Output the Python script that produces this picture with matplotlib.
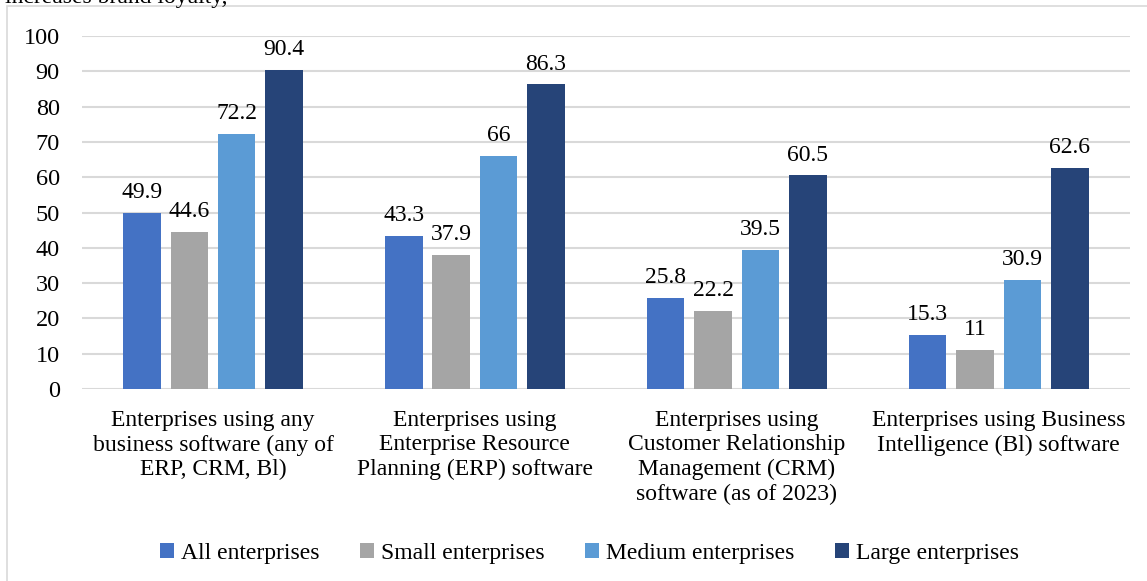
import numpy as np
import matplotlib.pyplot as plt
from matplotlib.patches import Rectangle

plt.rcParams["font.family"] = ["Liberation Serif", "DejaVu Serif"]

categories = [
    "Enterprises using any\nbusiness software (any of\nERP, CRM, Bl)",
    "Enterprises using\nEnterprise Resource\nPlanning (ERP) software",
    "Enterprises using\nCustomer Relationship\nManagement (CRM)\nsoftware (as of 2023)",
    "Enterprises using Business\nIntelligence (Bl) software",
]
series_names = ["All enterprises", "Small enterprises", "Medium enterprises", "Large enterprises"]
all_ent = [49.9, 43.3, 25.8, 15.3]
small_ent = [44.6, 37.9, 22.2, 11]
medium_ent = [72.2, 66, 39.5, 30.9]
large_ent = [90.4, 86.3, 60.5, 62.6]
yticks = list(range(0, 101, 10))

colors = ["#4472C4", "#A5A5A5", "#5B9BD5", "#264478"]
series = [all_ent, small_ent, medium_ent, large_ent]

fig = plt.figure(figsize=(11.47, 5.81), dpi=100)
ax = fig.add_axes([0.0715, 0.3305, 0.9135, 0.6075])

x = np.arange(len(categories))
step = 0.181
width = 0.143
for i, (name, vals, col) in enumerate(zip(series_names, series, colors)):
    pos = x + (i - 1.5) * step
    ax.bar(pos, vals, width, color=col, label=name, zorder=3)
    for px, v in zip(pos, vals):
        ax.annotate(f"{v:g}", (px, v), xytext=(0, 7), textcoords="offset points",
                    ha="center", va="bottom", fontsize=17)

ax.set_xlim(-0.5, len(categories) - 0.5)
ax.set_ylim(0, 100)
ax.set_yticks(yticks)
ax.set_xticks(x)
ax.set_xticklabels(categories, fontsize=17, linespacing=1.22)
ax.tick_params(axis="y", length=0, labelsize=17.5, pad=16)
ax.tick_params(axis="x", length=0, pad=15)
ax.grid(axis="y", color="#D9D9D9", linewidth=1.5, zorder=0)
for s in ax.spines.values():
    s.set_visible(False)

fig.legend(loc="center", bbox_to_anchor=(0.514, 0.048), ncol=4, frameon=False,
           fontsize=17, handlelength=0.6, handleheight=0.6, handletextpad=0.3,
           columnspacing=1.7)

# outer chart frame, running off the right and bottom edges
fig.patches.append(Rectangle((7 / 1147, -0.1), 1.2, 1.1 - 6 / 581,
                             transform=fig.transFigure, fill=False,
                             edgecolor="#D9D9D9", linewidth=1.2))
fig.text(5 / 1147, 1 + 3 / 581, "increases brand loyalty,", fontsize=17,
         ha="left", va="center")

fig.savefig("out.png", dpi=100)
plt.close(fig)
